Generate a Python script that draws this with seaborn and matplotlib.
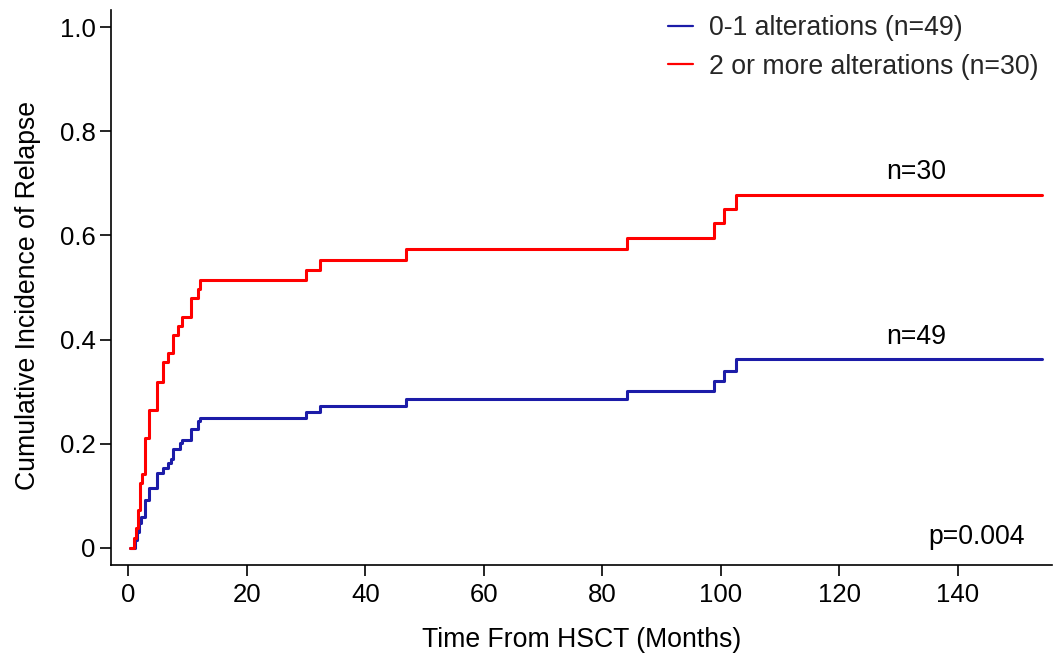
import matplotlib
matplotlib.use("Agg")
import matplotlib.pyplot as plt
import seaborn as sns
import pandas as pd

# ---- data ----
groups = ["0-1 alterations (n=49)", "2 or more alterations (n=30)"]

low_time = [0.3, 1.13, 1.41, 1.81, 2.09, 2.82, 3.55, 4.80, 5.81, 6.76, 7.16, 7.50,
            8.74, 9.02, 10.55, 11.83, 12.12, 30.0, 32.4, 46.8, 84.1, 98.9, 100.6,
            102.5, 154.2]
low_cif = [0.0, 0.015, 0.031, 0.048, 0.060, 0.092, 0.115, 0.143, 0.154, 0.163, 0.170,
           0.189, 0.202, 0.208, 0.229, 0.243, 0.250, 0.260, 0.273, 0.285, 0.302,
           0.321, 0.340, 0.362, 0.362]

high_time = [0.3, 1.01, 1.30, 1.59, 1.98, 2.37, 2.82, 3.55, 4.80, 5.81, 6.76, 7.50,
             8.45, 9.02, 10.55, 11.83, 12.12, 30.0, 32.4, 46.8, 84.1, 98.9, 100.6,
             102.5, 154.2]
high_cif = [0.0, 0.019, 0.038, 0.073, 0.124, 0.142, 0.211, 0.265, 0.319, 0.356, 0.374,
            0.409, 0.426, 0.444, 0.479, 0.497, 0.515, 0.534, 0.553, 0.573, 0.596,
            0.624, 0.651, 0.678, 0.678]

x_ticks = [0, 20, 40, 60, 80, 100, 120, 140]
y_ticks = [0, 0.2, 0.4, 0.6, 0.8, 1.0]
y_tick_labels = ["0", "0.2", "0.4", "0.6", "0.8", "1.0"]

n_labels = ["n=49", "n=30"]
p_text = "p=0.004"

df = pd.concat([
    pd.DataFrame({"time": low_time, "cif": low_cif, "group": groups[0]}),
    pd.DataFrame({"time": high_time, "cif": high_cif, "group": groups[1]}),
], ignore_index=True)

# ---- style ----
sns.set_theme(style="white")
plt.rcParams["font.family"] = ["Liberation Sans", "DejaVu Sans"]

W, H = 1054, 660
fig = plt.figure(figsize=(W / 100, H / 100), dpi=100)
left, right, top, bottom = 111, 1052, 10, 565
ax = fig.add_axes([left / W, 1 - bottom / H, (right - left) / W, (bottom - top) / H])

palette = {groups[0]: "#1c1ca8", groups[1]: "#ff0000"}
sns.lineplot(data=df, x="time", y="cif", hue="group", palette=palette,
             estimator=None, sort=False, drawstyle="steps-post",
             linewidth=2.2, ax=ax, legend=True)

ax.set_xlim(-2.92, 155.9)
ax.set_ylim(-0.033, 1.033)
ax.set_xticks(x_ticks)
ax.set_yticks(y_ticks)
ax.set_yticklabels(y_tick_labels)

for s in ["top", "right"]:
    ax.spines[s].set_visible(False)
for s in ["left", "bottom"]:
    ax.spines[s].set_color("black")
    ax.spines[s].set_linewidth(1.2)

TXT = 19.2
ax.tick_params(axis="both", which="major", direction="out", length=8, width=1.2,
               color="black", labelsize=18.5, labelcolor="black", pad=3,
               bottom=True, left=True)
ax.tick_params(axis="x", pad=5)

ax.set_xlabel("Time From HSCT (Months)", fontsize=TXT, color="black")
ax.set_ylabel("Cumulative Incidence of Relapse", fontsize=TXT, color="black")
ax.xaxis.set_label_coords(0.5, (bottom - 627) / (bottom - top))
ax.yaxis.set_label_coords((41 - left) / (right - left), 0.485)

# at-risk style annotations and p-value
ax.text(128.0, 0.405, n_labels[0], fontsize=TXT, ha="left", va="center", color="black")
ax.text(128.0, 0.722, n_labels[1], fontsize=TXT, ha="left", va="center", color="black")
ax.text(135.0, 0.021, p_text, fontsize=TXT, ha="left", va="center", color="black")

leg = ax.legend(loc="upper left", bbox_to_anchor=(668 / W, 1 - 15 / H),
                bbox_transform=fig.transFigure, frameon=False, fontsize=TXT,
                handlelength=0.95, handletextpad=0.6, labelspacing=0.48,
                borderpad=0, borderaxespad=0)
for line in leg.get_lines():
    line.set_linewidth(1.6)

fig.savefig("out.png", dpi=100)
